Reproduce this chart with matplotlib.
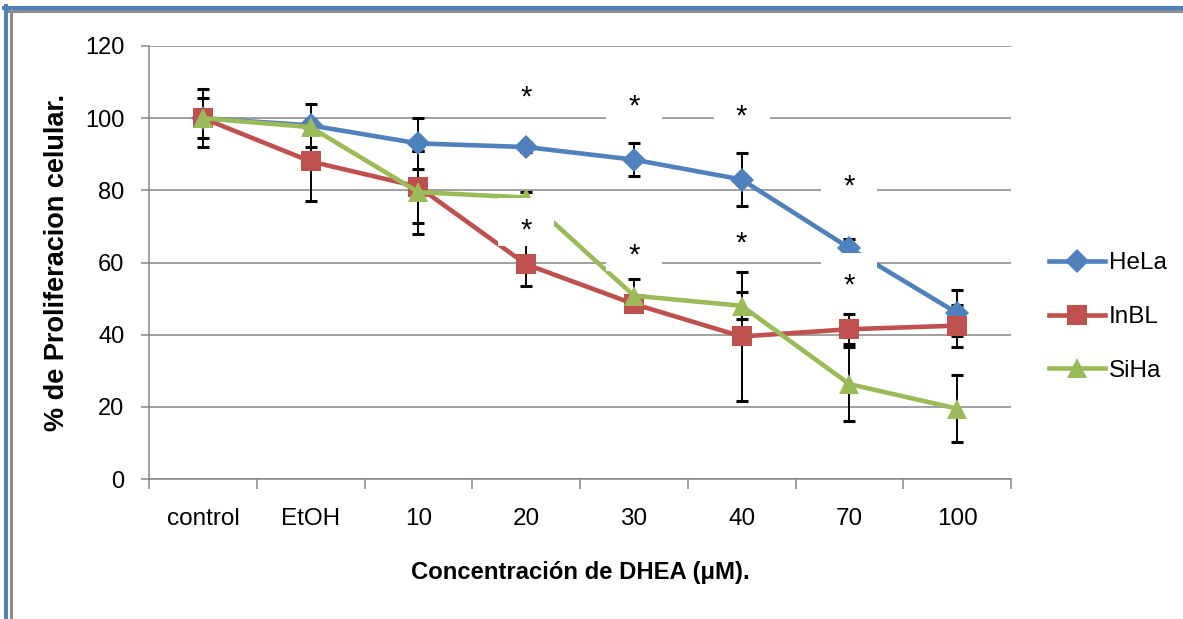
import numpy as np
import matplotlib
matplotlib.use('Agg')
import matplotlib.pyplot as plt
from matplotlib.lines import Line2D
from matplotlib.patches import Rectangle

# datos
categorias = ['control', 'EtOH', '10', '20', '30', '40', '70', '100']
hela = [100, 98, 93, 92, 88.5, 83, 64, 46]
hela_err = [8, 6, 7, 1.5, 4.6, 7.4, 2.5, 6.5]
inbl = [100, 88, 81, 59.5, 48.5, 39.5, 41.5, 42.5]
inbl_err = [5.5, 11, 10, 6, 2, 18, 4.2, 5.8]
siha = [100, 97.5, 79.5, 78, 50.8, 48, 26.3, 19.5]
siha_err = [2, 2, 11.5, 1.5, 4.6, 3.7, 10.2, 9.3]

# asteriscos de significancia (categoria, altura)
sig_x = [3, 3, 4, 4, 5, 5, 6, 6]
sig_y = [107, 70, 104.5, 63, 101.7, 66.3, 82.2, 54.7]

plt.rcParams['font.family'] = ['Liberation Sans', 'DejaVu Sans']

fig = plt.figure(figsize=(11.83, 6.19), dpi=100)
W, H = 1183, 619
ax = fig.add_axes([149 / W, 1 - 479 / H, (1011 - 149) / W, (479 - 46) / H])

gris = '#868686'
x = np.arange(len(categorias))

series = [
    ('HeLa', hela, hela_err, '#4F81BD', 'D', 12),
    ('InBL', inbl, inbl_err, '#C0504D', 's', 15),
    ('SiHa', siha, siha_err, '#9BBB59', '^', 15),
]

for nombre, vals, err, color, mk, ms in series:
    ax.errorbar(x, vals, yerr=err, fmt='none', ecolor='black',
                elinewidth=1.4, capsize=4.5, capthick=2.2, zorder=2)
for nombre, vals, err, color, mk, ms in series:
    ax.plot(x, vals, color=color, lw=3.3, marker=mk, markersize=ms,
            markeredgewidth=0, label=nombre, zorder=3)

# etiquetas * con fondo blanco
for sx, sy in zip(sig_x, sig_y):
    ax.add_patch(Rectangle((sx - 0.26, sy - 5.3), 0.52, 13.1,
                           facecolor='white', edgecolor='none', zorder=5))
    ax.text(sx, sy - 3.4, '*', ha='center', va='baseline', fontsize=21, zorder=6)

ax.set_xlim(-0.5, 7.5)
ax.set_ylim(0, 120)
ax.set_yticks(np.arange(0, 121, 20))
ax.yaxis.grid(True, color=gris, lw=1.1)
ax.set_axisbelow(True)

ax.set_xticks(x)
ax.set_xticklabels(categorias)
ax.set_xticks(np.arange(-0.5, 8, 1), minor=True)
ax.tick_params(axis='x', which='major', length=0, pad=21, labelsize=17.5)
ax.tick_params(axis='x', which='minor', length=7.2, width=1.1, color=gris)
ax.tick_params(axis='y', length=5.8, width=1.1, color=gris, pad=12, labelsize=17)

for s in ['top', 'right']:
    ax.spines[s].set_visible(False)
for s in ['left', 'bottom']:
    ax.spines[s].set_color(gris)
    ax.spines[s].set_linewidth(1.1)

ax.set_xlabel('Concentración de DHEA (μM).', fontsize=17.2, fontweight='bold')
ax.xaxis.set_label_coords(0.5, -0.19)
ax.set_ylabel('% de Proliferacion celular.', fontsize=19.5, fontweight='bold')
ax.yaxis.set_label_coords(-0.092, 0.5)

fig.legend(loc='center left', bbox_to_anchor=(1049 / W, 1 - 317 / H),
           frameon=False, fontsize=17.5, handlelength=2.3, handletextpad=0.15,
           labelspacing=1.3, borderpad=0, borderaxespad=0)

# marco recortado (arriba e izquierda)
fig.add_artist(Line2D([4 / W, 1], [1 - 8 / H, 1 - 8 / H], color='#4F81BD', lw=2.9))
fig.add_artist(Line2D([6 / W, 6 / W], [0, 1 - 6 / H], color='#4F81BD', lw=2.9))
fig.add_artist(Line2D([9 / W, 1], [1 - 11.3 / H, 1 - 11.3 / H], color='#8C8C8C', lw=2.2))
fig.add_artist(Line2D([10.5 / W, 10.5 / W], [0, 1 - 10 / H], color='#8C8C8C', lw=2.2))

fig.savefig('out.png', dpi=100)
